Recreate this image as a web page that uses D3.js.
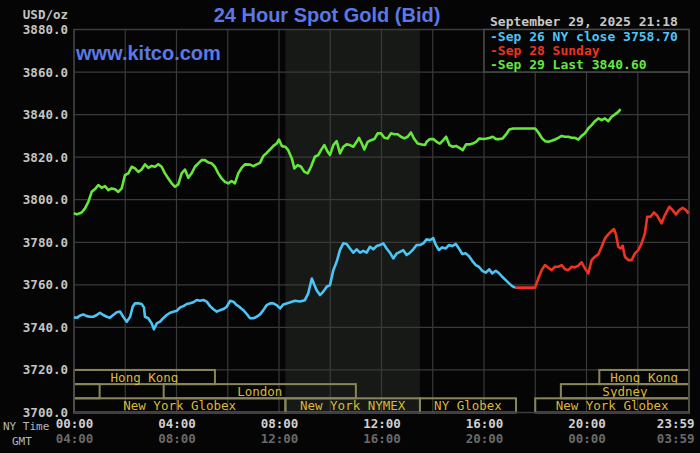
<!DOCTYPE html>
<html lang="en">
<head>
<meta charset="utf-8">
<script src="https://d3js.org/d3.v7.min.js"></script>
<title>24 Hour Spot Gold</title>
<style>
  html, body { margin: 0; padding: 0; background: #050505; }
  svg { display: block; }
  .mono { font-family: "DejaVu Sans Mono", monospace; font-weight: bold; }
</style>
</head>
<body>
<script>
// ---- data (hours, NY time) ----
var sep26Hours = [0,0.11,0.23,0.36,0.5,0.62,0.75,0.89,1.01,1.14,1.28,1.4,1.53,1.67,1.8,1.92,2.06,2.19,2.29,2.38,2.51,2.64,2.73,2.77,2.9,3.03,3.12,3.23,3.36,3.48,3.62,3.75,3.88,4.01,4.14,4.27,4.4,4.53,4.66,4.79,4.92,5.05,5.18,5.31,5.44,5.57,5.7,5.83,5.96,6.09,6.22,6.35,6.48,6.61,6.74,6.87,7,7.13,7.26,7.39,7.52,7.65,7.78,7.91,8.04,8.17,8.36,8.62,8.82,9.01,9.14,9.28,9.38,9.47,9.6,9.73,9.86,9.99,10.12,10.25,10.38,10.51,10.64,10.77,10.9,11.03,11.16,11.29,11.42,11.55,11.68,11.81,11.94,12.07,12.2,12.33,12.46,12.59,12.72,12.85,12.98,13.11,13.24,13.37,13.5,13.63,13.76,13.89,14.02,14.12,14.24,14.37,14.51,14.63,14.76,14.9,15.02,15.15,15.29,15.41,15.54,15.68,15.8,15.93,16.07,16.2,16.32,16.46,16.59,16.71,16.85,16.98,17.1,17.21];
var sep26Values = [3744.7,3744.5,3745.5,3746.1,3745.3,3745.0,3745.0,3745.8,3746.9,3745.8,3745.0,3744.5,3745.8,3747.1,3747.4,3745.0,3742.7,3745.0,3749.7,3751.3,3751.3,3751.0,3749.4,3745.0,3744.3,3741.9,3739.1,3741.9,3742.7,3744.3,3745.8,3746.9,3747.4,3747.8,3749.4,3750.0,3751.0,3751.3,3751.8,3752.9,3752.5,3752.9,3752.1,3750.0,3748.5,3747.4,3748.1,3748.6,3749.7,3752.5,3752.1,3750.5,3749.4,3748.1,3746.3,3744.3,3744.3,3745.0,3746.1,3748.1,3750.5,3751.3,3751.3,3750.5,3748.9,3750.8,3751.5,3752.5,3752.2,3752.8,3756.0,3763.0,3759.9,3757.5,3755.2,3756.8,3759.1,3759.9,3766.9,3770.8,3776.4,3779.5,3779.2,3777.1,3775.1,3776.7,3775.1,3776.0,3775.1,3777.9,3776.7,3778.2,3778.7,3779.5,3777.1,3775.1,3772.4,3774.7,3775.5,3776.3,3774.0,3775.1,3776.7,3778.7,3778.7,3779.5,3781.4,3781.0,3781.9,3778.7,3776.4,3777.6,3777.1,3778.7,3778.2,3779.2,3777.1,3774.5,3774.8,3773.5,3771.3,3769.3,3768.5,3766.6,3765.7,3767.3,3765.4,3766.6,3765.4,3763.8,3762.2,3760.7,3759.4,3758.7];

var sep28Hours = [17.21,17.99,18.12,18.25,18.38,18.51,18.64,18.77,18.9,19.03,19.16,19.29,19.42,19.55,19.68,19.81,19.94,20.07,20.2,20.33,20.46,20.59,20.72,20.85,20.98,21.07,21.15,21.24,21.33,21.41,21.5,21.63,21.76,21.89,22.02,22.15,22.28,22.37,22.5,22.63,22.76,22.93,23.06,23.23,23.36,23.49,23.62,23.75,23.88,23.98];
var sep28Values = [3758.7,3758.7,3763.0,3766.9,3769.3,3768.0,3766.9,3768.5,3768.5,3769.3,3767.4,3766.9,3768.5,3768.2,3769.0,3770.6,3767.7,3765.4,3771.6,3773.2,3774.3,3777.9,3781.8,3783.7,3785.3,3786.2,3783.7,3777.9,3777.1,3778.4,3773.2,3771.6,3771.6,3774.8,3776.3,3779.5,3784.2,3792.0,3792.0,3794.0,3792.5,3788.9,3792.8,3796.7,3795.1,3793.1,3795.1,3796.2,3795.1,3793.6];

var sep29Hours = [0,0.11,0.3,0.43,0.56,0.69,0.82,0.95,1.08,1.21,1.34,1.47,1.6,1.73,1.86,1.99,2.12,2.25,2.38,2.51,2.64,2.77,2.9,3.03,3.16,3.29,3.42,3.55,3.68,3.81,3.94,4.07,4.2,4.33,4.46,4.59,4.72,4.85,4.98,5.11,5.24,5.37,5.5,5.63,5.76,5.89,6.02,6.15,6.28,6.41,6.54,6.67,6.87,7,7.13,7.26,7.39,7.52,7.65,7.78,7.91,8,8.11,8.24,8.36,8.5,8.6,8.73,8.86,8.99,9.12,9.25,9.4,9.53,9.64,9.77,9.9,9.99,10.12,10.25,10.38,10.51,10.64,10.77,10.9,11.03,11.12,11.23,11.33,11.46,11.59,11.72,11.85,11.98,12.11,12.24,12.37,12.5,12.63,12.76,12.89,13.02,13.15,13.28,13.41,13.57,13.7,13.76,13.89,14.02,14.15,14.28,14.41,14.52,14.65,14.78,14.91,15.04,15.17,15.3,15.43,15.56,15.69,15.82,15.97,16.11,16.23,16.34,16.47,16.6,16.73,16.86,16.99,17.14,17.99,18.12,18.25,18.38,18.51,18.64,18.77,18.9,19.03,19.16,19.29,19.42,19.55,19.68,19.81,19.94,20.07,20.2,20.33,20.46,20.59,20.72,20.85,20.98,21.11,21.24,21.33];
var sep29Values = [3793.6,3793.1,3794.0,3795.9,3799.0,3803.7,3805.0,3806.9,3805.6,3806.4,3804.5,3805.3,3804.9,3803.7,3805.3,3811.6,3812.4,3815.5,3814.7,3813.1,3814.2,3816.6,3815.0,3815.9,3815.5,3816.7,3815.5,3812.4,3810.0,3807.7,3806.1,3807.2,3812.4,3814.2,3810.3,3812.4,3815.5,3817.1,3818.6,3818.6,3817.5,3817.1,3815.5,3812.4,3810.0,3808.4,3807.7,3808.8,3807.7,3812.4,3815.0,3816.6,3816.5,3815.8,3816.6,3817.3,3820.6,3822.0,3823.6,3825.3,3826.4,3828.3,3825.2,3824.9,3823.3,3819.4,3814.7,3816.3,3815.5,3813.1,3812.4,3815.5,3820.2,3821.0,3823.3,3825.7,3822.5,3821.0,3825.7,3827.5,3821.8,3824.9,3826.0,3825.7,3824.9,3827.2,3829.1,3826.4,3823.6,3827.2,3828.0,3828.5,3831.2,3831.2,3829.1,3828.8,3831.2,3830.8,3830.8,3829.6,3828.8,3829.6,3831.6,3828.5,3826.4,3826.0,3825.7,3827.2,3828.5,3828.5,3827.2,3826.4,3828.0,3829.6,3825.7,3824.9,3825.3,3824.4,3823.3,3826.0,3826.0,3826.4,3827.2,3828.8,3828.5,3828.8,3829.1,3829.6,3828.5,3828.5,3828.8,3830.7,3833.0,3833.5,3833.5,3831.6,3829.1,3827.5,3827.2,3827.7,3828.3,3829.1,3830.0,3829.6,3829.6,3829.1,3829.1,3828.3,3830.0,3831.2,3833.5,3835.1,3836.9,3838.2,3837.4,3838.2,3836.9,3839.0,3840.1,3841.3,3842.6];

var legendLabels = ["Sep 26 NY close 3758.70", "Sep 28 Sunday", "Sep 29 Last 3840.60"];
var stampLabel = "September 29, 2025 21:18";

var yTicks = [3700,3720,3740,3760,3780,3800,3820,3840,3860,3880];
var xTickHours = [0,4,8,12,16,20,24];
var nyTickLabels = ["00:00","04:00","08:00","12:00","16:00","20:00","23:59"];
var gmtTickLabels = ["04:00","08:00","12:00","16:00","20:00","00:00","03:59"];

var sessionNames = ["Hong Kong","Hong Kong","","London","Sydney","New York Globex","New York NYMEX","NY Globex","New York Globex"];
var sessionStart = [0,20.5,0,3.5,19,0,8.25,13.5,18];
var sessionEnd   = [5.5,24,1,11,24,8.25,13.5,17.25,24];
var sessionRow   = [0,0,1,1,1,2,2,2,2];

var pitStart = 8.25, pitEnd = 13.5;

// ---- layout ----
var width = 700, height = 453;
var plotL = 74, plotR = 689, plotT = 29.5, plotB = 412.5;

var svg = d3.select('body').append('svg')
  .attr('width', width)
  .attr('height', height);

svg.append('rect').attr('width', width).attr('height', height).attr('fill', '#050505');

var x = d3.scaleLinear().domain([0, 24]).range([plotL, plotR]);
var y = d3.scaleLinear().domain([3700, 3880]).range([plotB, plotT]);

// shaded NYMEX pit session
svg.append('rect')
  .attr('x', x(pitStart)).attr('y', plotT)
  .attr('width', x(pitEnd) - x(pitStart)).attr('height', plotB - plotT)
  .attr('fill', '#161916');

// grid
var grid = svg.append('g').attr('stroke', '#3a3a3a').attr('stroke-width', 1.2);
grid.selectAll('line.h').data(yTicks).join('line')
  .attr('x1', plotL).attr('x2', plotR)
  .attr('y1', function(d) { return y(d); }).attr('y2', function(d) { return y(d); });
grid.selectAll('line.v').data(d3.range(0, 25, 2)).join('line')
  .attr('y1', plotT).attr('y2', plotB)
  .attr('x1', function(d) { return x(d); }).attr('x2', function(d) { return x(d); });

// y axis labels
var yAxis = svg.append('g')
  .attr('transform', 'translate(' + (plotL - 4) + ',0)')
  .call(d3.axisLeft(y).tickValues(yTicks).tickSize(0).tickPadding(2).tickFormat(d3.format('.1f')));
yAxis.select('.domain').remove();
yAxis.selectAll('text').attr('class', 'mono').attr('fill', '#c4c4c4').style('font-size', '12.5px');

svg.append('text').attr('class', 'mono')
  .attr('x', 68).attr('y', 18.5).attr('text-anchor', 'end')
  .attr('fill', '#c4c4c4').style('font-size', '12.5px')
  .text('USD/oz');

// x axis: NY time and GMT rows
function timeAxis(labels, dy, color) {
  var g = svg.append('g')
    .attr('transform', 'translate(0,' + (plotB + dy) + ')')
    .call(d3.axisBottom(x).tickValues(xTickHours).tickSize(0).tickPadding(3)
      .tickFormat(function(d, i) { return labels[i]; }));
  g.select('.domain').remove();
  g.selectAll('text').attr('class', 'mono').attr('fill', color).style('font-size', '12.5px');
  // last label sits flush against the right edge
  g.selectAll('.tick').filter(function(d) { return d === 24; }).select('text')
    .attr('text-anchor', 'end').attr('dx', 5);
  return g;
}
timeAxis(nyTickLabels, 4, '#d0d0d0');
timeAxis(gmtTickLabels, 19, '#6a6a6a');

svg.append('text').attr('x', 3).attr('y', 430)
  .style('font-family', 'DejaVu Sans Mono').style('font-size', '11px')
  .attr('fill', '#b8b8b8').text('NY Time');
svg.append('text').attr('x', 12).attr('y', 445)
  .style('font-family', 'DejaVu Sans Mono').style('font-size', '11px')
  .attr('fill', '#b8b8b8').text('GMT');

// market sessions
var rowH = (y(3700) - y(3720)) / 3;
var sess = svg.append('g');
sessionNames.forEach(function(name, i) {
  var y0 = y(3720) + sessionRow[i] * rowH;
  sess.append('rect')
    .attr('x', x(sessionStart[i])).attr('y', y0)
    .attr('width', x(sessionEnd[i]) - x(sessionStart[i])).attr('height', rowH)
    .attr('fill', 'none').attr('stroke', '#8a865c').attr('stroke-width', 2);
  if (name) {
    sess.append('text')
      .attr('x', x((sessionStart[i] + sessionEnd[i]) / 2))
      .attr('y', y0 + rowH / 2 + 4.5)
      .attr('text-anchor', 'middle')
      .style('font-family', 'DejaVu Sans Mono').style('font-size', '12.5px')
      .attr('fill', '#dcb834').text(name);
  }
});

// border
svg.append('rect').attr('x', plotL).attr('y', plotT)
  .attr('width', plotR - plotL).attr('height', plotB - plotT)
  .attr('fill', 'none').attr('stroke', '#3e3e3e').attr('stroke-width', 1.5);

// price lines
var line = d3.line()
  .x(function(d) { return x(d[0]); })
  .y(function(d) { return y(d[1]); });

function drawSeries(hours, values, color) {
  svg.append('path')
    .datum(d3.zip(hours, values))
    .attr('fill', 'none')
    .attr('stroke', color)
    .attr('stroke-width', 2.6)
    .attr('stroke-linejoin', 'round')
    .attr('d', line);
}
var colors = ['#4cc4f4', '#ee3322', '#66e83a'];
drawSeries(sep26Hours, sep26Values, colors[0]);
drawSeries(sep28Hours, sep28Values, colors[1]);
drawSeries(sep29Hours, sep29Values, colors[2]);

// titles
svg.append('text')
  .attr('x', 327).attr('y', 22).attr('text-anchor', 'middle')
  .style('font-family', 'Liberation Sans, Arial').style('font-weight', 'bold').style('font-size', '20px')
  .attr('fill', '#5a78e8').text('24 Hour Spot Gold (Bid)');
svg.append('text')
  .attr('x', 76).attr('y', 60)
  .style('font-family', 'Liberation Sans, Arial').style('font-weight', 'bold').style('font-size', '20px')
  .attr('fill', '#5a78e8').text('www.kitco.com');

svg.append('text').attr('class', 'mono')
  .attr('x', 490).attr('y', 26)
  .attr('fill', '#c8c8c8').style('font-size', '13px')
  .text(stampLabel);

// legend box
svg.append('rect').attr('x', 484).attr('y', plotT)
  .attr('width', plotR - 484).attr('height', 42.5)
  .attr('fill', '#050505').attr('stroke', '#4a4a4a').attr('stroke-width', 1.5);
legendLabels.forEach(function(lab, i) {
  svg.append('text').attr('class', 'mono')
    .attr('x', 490).attr('y', 40.5 + i * 14)
    .attr('fill', colors[i]).style('font-size', '13px')
    .text('-' + lab);
});
</script>
</body>
</html>
